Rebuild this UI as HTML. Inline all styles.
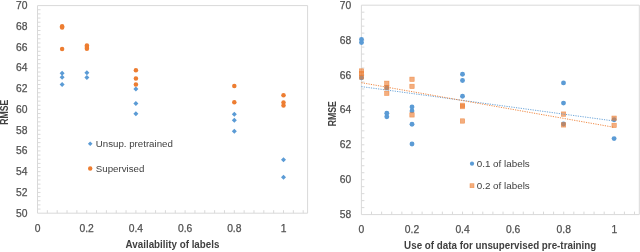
<!DOCTYPE html><html><head><meta charset="utf-8"><style>html,body{margin:0;padding:0;background:#fff;width:640px;height:252px;overflow:hidden}svg{display:block;will-change:transform}</style></head><body>
<svg width="640" height="252" viewBox="0 0 640 252" font-family="Liberation Sans, sans-serif">
<path d="M37.5 5.6H307.6V213.2" fill="none" stroke="#D9D9D9" stroke-width="1"/>
<path d="M37.5 5.6V213.2H307.6" fill="none" stroke="#D9D9D9" stroke-width="1"/>
<path d="M37.5 209.05h3 M37.5 204.90h3 M37.5 200.74h3 M37.5 196.59h3 M37.5 192.44h3 M37.5 188.29h3 M37.5 184.14h3 M37.5 179.98h3 M37.5 175.83h3 M37.5 171.68h3 M37.5 167.53h3 M37.5 163.38h3 M37.5 159.22h3 M37.5 155.07h3 M37.5 150.92h3 M37.5 146.77h3 M37.5 142.62h3 M37.5 138.46h3 M37.5 134.31h3 M37.5 130.16h3 M37.5 126.01h3 M37.5 121.86h3 M37.5 117.70h3 M37.5 113.55h3 M37.5 109.40h3 M37.5 105.25h3 M37.5 101.10h3 M37.5 96.94h3 M37.5 92.79h3 M37.5 88.64h3 M37.5 84.49h3 M37.5 80.34h3 M37.5 76.18h3 M37.5 72.03h3 M37.5 67.88h3 M37.5 63.73h3 M37.5 59.58h3 M37.5 55.42h3 M37.5 51.27h3 M37.5 47.12h3 M37.5 42.97h3 M37.5 38.82h3 M37.5 34.66h3 M37.5 30.51h3 M37.5 26.36h3 M37.5 22.21h3 M37.5 18.06h3 M37.5 13.90h3 M37.5 9.75h3 M47.34 213.2v-3 M57.18 213.2v-3 M67.02 213.2v-3 M76.86 213.2v-3 M86.70 213.2v-3 M96.54 213.2v-3 M106.38 213.2v-3 M116.22 213.2v-3 M126.06 213.2v-3 M135.90 213.2v-3 M145.74 213.2v-3 M155.58 213.2v-3 M165.42 213.2v-3 M175.26 213.2v-3 M185.10 213.2v-3 M194.94 213.2v-3 M204.78 213.2v-3 M214.62 213.2v-3 M224.46 213.2v-3 M234.30 213.2v-3 M244.14 213.2v-3 M253.98 213.2v-3 M263.82 213.2v-3 M273.66 213.2v-3 M283.50 213.2v-3 M293.34 213.2v-3 M303.18 213.2v-3" fill="none" stroke="#D9D9D9" stroke-width="1"/>
<g font-size="10.3" fill="#505050" stroke="#505050" stroke-width="0.25" text-anchor="end">
<text x="27.4" y="216.70">50</text>
<text x="27.4" y="195.94">52</text>
<text x="27.4" y="175.18">54</text>
<text x="27.4" y="154.42">56</text>
<text x="27.4" y="133.66">58</text>
<text x="27.4" y="112.90">60</text>
<text x="27.4" y="92.14">62</text>
<text x="27.4" y="71.38">64</text>
<text x="27.4" y="50.62">66</text>
<text x="27.4" y="29.86">68</text>
<text x="27.4" y="9.10">70</text>
</g>
<g font-size="10.3" fill="#505050" stroke="#505050" stroke-width="0.25" text-anchor="middle">
<text x="37.50" y="231.7">0</text>
<text x="86.70" y="231.7">0.2</text>
<text x="135.90" y="231.7">0.4</text>
<text x="185.10" y="231.7">0.6</text>
<text x="234.30" y="231.7">0.8</text>
<text x="283.50" y="231.7">1</text>
</g>
<text transform="translate(172.5 248.3) scale(0.925 1)" font-size="10.6" font-weight="bold" fill="#404040" text-anchor="middle">Availability of labels</text>
<text transform="translate(8.4 112.2) rotate(-90) scale(0.87 1)" font-size="10" font-weight="bold" fill="#404040" text-anchor="middle">RMSE</text>
<path d="M62.1 70.8L64.6 73.3L62.1 75.8L59.6 73.3Z" fill="#5B9BD5"/>
<path d="M62.1 74.8L64.6 77.3L62.1 79.8L59.6 77.3Z" fill="#5B9BD5"/>
<path d="M62.1 82.1L64.6 84.6L62.1 87.1L59.6 84.6Z" fill="#5B9BD5"/>
<path d="M86.9 70.3L89.4 72.8L86.9 75.3L84.4 72.8Z" fill="#5B9BD5"/>
<path d="M86.9 74.9L89.4 77.4L86.9 79.9L84.4 77.4Z" fill="#5B9BD5"/>
<path d="M135.9 86.5L138.4 89.0L135.9 91.5L133.4 89.0Z" fill="#5B9BD5"/>
<path d="M135.9 101.0L138.4 103.5L135.9 106.0L133.4 103.5Z" fill="#5B9BD5"/>
<path d="M135.9 111.2L138.4 113.7L135.9 116.2L133.4 113.7Z" fill="#5B9BD5"/>
<path d="M234.3 111.8L236.8 114.3L234.3 116.8L231.8 114.3Z" fill="#5B9BD5"/>
<path d="M234.3 117.8L236.8 120.3L234.3 122.8L231.8 120.3Z" fill="#5B9BD5"/>
<path d="M234.3 128.8L236.8 131.3L234.3 133.8L231.8 131.3Z" fill="#5B9BD5"/>
<path d="M283.5 157.3L286.0 159.8L283.5 162.3L281.0 159.8Z" fill="#5B9BD5"/>
<path d="M283.5 174.8L286.0 177.3L283.5 179.8L281.0 177.3Z" fill="#5B9BD5"/>
<circle cx="62.1" cy="26.2" r="2.25" fill="#ED7D31"/>
<circle cx="62.1" cy="27.5" r="2.25" fill="#ED7D31"/>
<circle cx="62.1" cy="49.0" r="2.25" fill="#ED7D31"/>
<circle cx="86.9" cy="45.4" r="2.25" fill="#ED7D31"/>
<circle cx="86.9" cy="47.0" r="2.25" fill="#ED7D31"/>
<circle cx="86.9" cy="48.7" r="2.25" fill="#ED7D31"/>
<circle cx="135.9" cy="70.25" r="2.25" fill="#ED7D31"/>
<circle cx="135.9" cy="78.5" r="2.25" fill="#ED7D31"/>
<circle cx="135.9" cy="84.6" r="2.25" fill="#ED7D31"/>
<circle cx="234.3" cy="86.0" r="2.25" fill="#ED7D31"/>
<circle cx="234.3" cy="102.2" r="2.25" fill="#ED7D31"/>
<circle cx="283.5" cy="95.2" r="2.25" fill="#ED7D31"/>
<circle cx="283.5" cy="102.4" r="2.25" fill="#ED7D31"/>
<circle cx="283.5" cy="105.4" r="2.25" fill="#ED7D31"/>
<path d="M90.2 141.39999999999998L92.5 143.7L90.2 146.0L87.9 143.7Z" fill="#5B9BD5"/>
<text x="95.8" y="147.2" font-size="9.7" fill="#404040">Unsup. pretrained</text>
<circle cx="90.2" cy="168.5" r="2.2" fill="#ED7D31"/>
<text x="95.8" y="171.5" font-size="9.7" fill="#404040">Supervised</text>
<path d="M361.4 5.2H639.3V214.6" fill="none" stroke="#D9D9D9" stroke-width="1"/>
<path d="M361.4 5.2V214.6H639.3" fill="none" stroke="#D9D9D9" stroke-width="1"/>
<path d="M361.4 207.62h3 M361.4 200.64h3 M361.4 193.66h3 M361.4 186.68h3 M361.4 179.70h3 M361.4 172.72h3 M361.4 165.74h3 M361.4 158.76h3 M361.4 151.78h3 M361.4 144.80h3 M361.4 137.82h3 M361.4 130.84h3 M361.4 123.86h3 M361.4 116.88h3 M361.4 109.90h3 M361.4 102.92h3 M361.4 95.94h3 M361.4 88.96h3 M361.4 81.98h3 M361.4 75.00h3 M361.4 68.02h3 M361.4 61.04h3 M361.4 54.06h3 M361.4 47.08h3 M361.4 40.10h3 M361.4 33.12h3 M361.4 26.14h3 M361.4 19.16h3 M361.4 12.18h3 M371.52 214.6v-3 M381.63 214.6v-3 M391.75 214.6v-3 M401.86 214.6v-3 M411.98 214.6v-3 M422.10 214.6v-3 M432.21 214.6v-3 M442.33 214.6v-3 M452.44 214.6v-3 M462.56 214.6v-3 M472.68 214.6v-3 M482.79 214.6v-3 M492.91 214.6v-3 M503.02 214.6v-3 M513.14 214.6v-3 M523.26 214.6v-3 M533.37 214.6v-3 M543.49 214.6v-3 M553.60 214.6v-3 M563.72 214.6v-3 M573.84 214.6v-3 M583.95 214.6v-3 M594.07 214.6v-3 M604.18 214.6v-3 M614.30 214.6v-3 M624.42 214.6v-3 M634.53 214.6v-3" fill="none" stroke="#D9D9D9" stroke-width="1"/>
<g font-size="10.3" fill="#505050" stroke="#505050" stroke-width="0.25" text-anchor="end">
<text x="351.2" y="218.10">58</text>
<text x="351.2" y="183.22">60</text>
<text x="351.2" y="148.34">62</text>
<text x="351.2" y="113.46">64</text>
<text x="351.2" y="78.58">66</text>
<text x="351.2" y="43.70">68</text>
<text x="351.2" y="8.82">70</text>
</g>
<g font-size="10.3" fill="#505050" stroke="#505050" stroke-width="0.25" text-anchor="middle">
<text x="361.40" y="233.0">0</text>
<text x="411.98" y="233.0">0.2</text>
<text x="462.56" y="233.0">0.4</text>
<text x="513.14" y="233.0">0.6</text>
<text x="563.72" y="233.0">0.8</text>
<text x="614.30" y="233.0">1</text>
</g>
<text transform="translate(500.2 248.8) scale(0.925 1)" font-size="10.6" font-weight="bold" fill="#404040" text-anchor="middle">Use of data for unsupervised pre-training</text>
<text transform="translate(336.0 113.8) rotate(-90) scale(0.87 1)" font-size="10" font-weight="bold" fill="#404040" text-anchor="middle">RMSE</text>
<circle cx="361.5" cy="39.4" r="2.45" fill="#5B9BD5"/>
<circle cx="361.5" cy="42.6" r="2.45" fill="#5B9BD5"/>
<circle cx="361.5" cy="77.8" r="2.45" fill="#5B9BD5"/>
<circle cx="386.8" cy="87.8" r="2.45" fill="#5B9BD5"/>
<circle cx="386.8" cy="113.3" r="2.45" fill="#5B9BD5"/>
<circle cx="386.8" cy="116.8" r="2.45" fill="#5B9BD5"/>
<circle cx="412.0" cy="106.9" r="2.45" fill="#5B9BD5"/>
<circle cx="412.0" cy="110.9" r="2.45" fill="#5B9BD5"/>
<circle cx="412.0" cy="124.2" r="2.45" fill="#5B9BD5"/>
<circle cx="412.0" cy="144.0" r="2.45" fill="#5B9BD5"/>
<circle cx="462.5" cy="74.3" r="2.45" fill="#5B9BD5"/>
<circle cx="462.5" cy="80.5" r="2.45" fill="#5B9BD5"/>
<circle cx="462.5" cy="96.3" r="2.45" fill="#5B9BD5"/>
<circle cx="563.5" cy="82.9" r="2.45" fill="#5B9BD5"/>
<circle cx="563.5" cy="103.1" r="2.45" fill="#5B9BD5"/>
<circle cx="563.5" cy="124.0" r="2.45" fill="#5B9BD5"/>
<circle cx="614.1" cy="119.8" r="2.45" fill="#5B9BD5"/>
<circle cx="614.1" cy="138.6" r="2.45" fill="#5B9BD5"/>
<rect x="359.30" y="68.80" width="4.4" height="4.4" fill="#ED7D31" fill-opacity="0.62" stroke="#ED7D31" stroke-opacity="0.7" stroke-width="0.6"/>
<rect x="359.30" y="71.30" width="4.4" height="4.4" fill="#ED7D31" fill-opacity="0.62" stroke="#ED7D31" stroke-opacity="0.7" stroke-width="0.6"/>
<rect x="359.30" y="74.80" width="4.4" height="4.4" fill="#ED7D31" fill-opacity="0.62" stroke="#ED7D31" stroke-opacity="0.7" stroke-width="0.6"/>
<rect x="384.60" y="81.10" width="4.4" height="4.4" fill="#ED7D31" fill-opacity="0.62" stroke="#ED7D31" stroke-opacity="0.7" stroke-width="0.6"/>
<rect x="384.60" y="85.30" width="4.4" height="4.4" fill="#ED7D31" fill-opacity="0.62" stroke="#ED7D31" stroke-opacity="0.7" stroke-width="0.6"/>
<rect x="384.60" y="91.10" width="4.4" height="4.4" fill="#ED7D31" fill-opacity="0.62" stroke="#ED7D31" stroke-opacity="0.7" stroke-width="0.6"/>
<rect x="409.80" y="77.10" width="4.4" height="4.4" fill="#ED7D31" fill-opacity="0.62" stroke="#ED7D31" stroke-opacity="0.7" stroke-width="0.6"/>
<rect x="409.80" y="84.20" width="4.4" height="4.4" fill="#ED7D31" fill-opacity="0.62" stroke="#ED7D31" stroke-opacity="0.7" stroke-width="0.6"/>
<rect x="409.80" y="112.70" width="4.4" height="4.4" fill="#ED7D31" fill-opacity="0.62" stroke="#ED7D31" stroke-opacity="0.7" stroke-width="0.6"/>
<rect x="460.30" y="103.10" width="4.4" height="4.4" fill="#ED7D31" fill-opacity="0.62" stroke="#ED7D31" stroke-opacity="0.7" stroke-width="0.6"/>
<rect x="460.30" y="104.40" width="4.4" height="4.4" fill="#ED7D31" fill-opacity="0.62" stroke="#ED7D31" stroke-opacity="0.7" stroke-width="0.6"/>
<rect x="460.30" y="118.80" width="4.4" height="4.4" fill="#ED7D31" fill-opacity="0.62" stroke="#ED7D31" stroke-opacity="0.7" stroke-width="0.6"/>
<rect x="561.30" y="111.90" width="4.4" height="4.4" fill="#ED7D31" fill-opacity="0.62" stroke="#ED7D31" stroke-opacity="0.7" stroke-width="0.6"/>
<rect x="561.30" y="122.70" width="4.4" height="4.4" fill="#ED7D31" fill-opacity="0.62" stroke="#ED7D31" stroke-opacity="0.7" stroke-width="0.6"/>
<rect x="611.90" y="116.00" width="4.4" height="4.4" fill="#ED7D31" fill-opacity="0.62" stroke="#ED7D31" stroke-opacity="0.7" stroke-width="0.6"/>
<rect x="611.90" y="123.20" width="4.4" height="4.4" fill="#ED7D31" fill-opacity="0.62" stroke="#ED7D31" stroke-opacity="0.7" stroke-width="0.6"/>
<line x1="361.4" y1="86.6" x2="614.1" y2="121.0" stroke="#5B9BD5" stroke-width="0.9" stroke-dasharray="1.2 1.2"/>
<line x1="361.4" y1="82.7" x2="614.1" y2="127.3" stroke="#ED7D31" stroke-width="0.9" stroke-dasharray="1.2 1.2"/>
<circle cx="472.0" cy="163.7" r="2.1" fill="#5B9BD5"/>
<text x="476.7" y="167.1" font-size="9.85" fill="#404040">0.1 of labels</text>
<rect x="470.00" y="183.70" width="4.0" height="4.0" fill="#ED7D31" fill-opacity="0.62" stroke="#ED7D31" stroke-opacity="0.7" stroke-width="0.6"/>
<text x="476.7" y="188.5" font-size="9.85" fill="#404040">0.2 of labels</text>
</svg></body></html>
